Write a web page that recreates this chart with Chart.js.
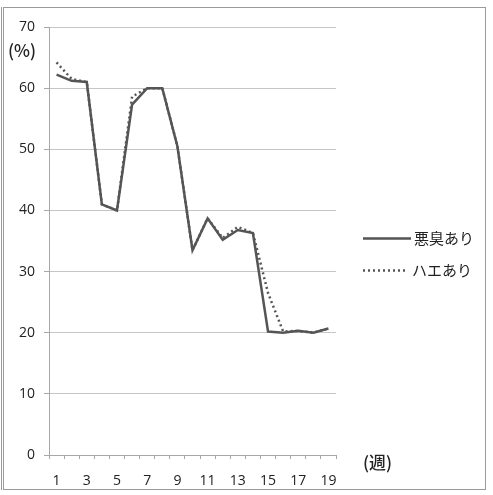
<!DOCTYPE html>
<html>
<head>
<meta charset="utf-8">
<script src="https://cdn.jsdelivr.net/npm/chart.js@4"></script>
<style>
  html, body { margin: 0; padding: 0; background: #fff; }
  #wrap { width: 493px; height: 495px; position: relative; }
</style>
</head>
<body>
<div id="wrap"><canvas id="c" width="493" height="495"></canvas></div>
<script>
// Weekly rate (%) by complaint type
const weeks = [1, 2, 3, 4, 5, 6, 7, 8, 9, 10, 11, 12, 13, 14, 15, 16, 17, 18, 19];
const odorValues = [62.2, 61.2, 61, 41, 40, 57.3, 60, 60, 50.5, 33.5, 38.7, 35.2, 36.8, 36.3, 20.2, 20, 20.3, 20, 20.7];
const flyValues  = [64.2, 61.5, 61, 41, 40, 58.6, 60, 60, 50.5, 33.5, 38.7, 35.5, 37.3, 36.3, 26.5, 20.2, 20.3, 20, 20.7];
const seriesNames = ['悪臭あり', 'ハエあり'];
const yUnit = '(%)';
const xUnit = '(週)';

const lineColor = '#555555';
const gridColor = '#c6c6c6';
const axisColor = '#a8a8a8';
const textColor = '#222222';
const numFont = { family: "'Open Sans', 'DejaVu Sans', sans-serif", size: 14 };
const jpFont = "'Noto Sans CJK JP', sans-serif";

// Frame, unit labels and a hand-laid legend on the right
const decorations = {
  id: 'decorations',
  beforeDraw(chart) {
    const ctx = chart.ctx;
    ctx.save();
    ctx.fillStyle = '#ffffff';
    ctx.fillRect(0, 0, chart.width, chart.height);
    ctx.strokeStyle = '#9a9a9a';
    ctx.lineWidth = 1;
    ctx.strokeRect(3.5, 7.5, 482, 482);
    ctx.beginPath();
    ctx.moveTo(1.5, 7); ctx.lineTo(1.5, 490);
    ctx.stroke();
    ctx.restore();
  },
  afterDraw(chart) {
    const ctx = chart.ctx;
    ctx.save();
    ctx.fillStyle = textColor;
    ctx.textBaseline = 'middle';
    ctx.textAlign = 'left';
    ctx.font = "500 17px " + jpFont;
    ctx.fillText(yUnit, 8, 51);
    ctx.fillText(xUnit, 363, 463);

    // legend
    const items = chart.data.datasets;
    const rows = [238, 270];
    items.forEach((ds, i) => {
      const y = rows[i];
      ctx.beginPath();
      ctx.strokeStyle = ds.borderColor;
      ctx.lineWidth = ds.borderWidth;
      ctx.setLineDash(ds.borderDash || []);
      ctx.moveTo(363, y + 0.5);
      ctx.lineTo(i === 0 ? 411 : 407, y + 0.5);
      ctx.stroke();
      ctx.setLineDash([]);
      ctx.fillStyle = textColor;
      ctx.font = "15px " + jpFont;
      ctx.fillText(ds.label, i === 0 ? 414 : 412, y);
    });
    ctx.restore();
  }
};

new Chart(document.getElementById('c'), {
  type: 'line',
  data: {
    labels: weeks,
    datasets: [
      {
        label: seriesNames[0],
        data: odorValues,
        borderColor: lineColor,
        borderWidth: 2.5,
        pointRadius: 0,
        tension: 0,
        fill: false
      },
      {
        label: seriesNames[1],
        data: flyValues,
        borderColor: lineColor,
        borderWidth: 2.5,
        borderDash: [2, 3],
        pointRadius: 0,
        tension: 0,
        fill: false
      }
    ]
  },
  options: {
    responsive: false,
    animation: false,
    devicePixelRatio: 1,
    layout: { padding: { left: 0, right: 157, top: 27, bottom: 0 } },
    plugins: {
      legend: { display: false },
      tooltip: { enabled: false }
    },
    scales: {
      x: {
        type: 'category',
        offset: true,
        afterFit(scale) { scale.height = 40; },
        grid: {
          display: true,
          offset: true,
          drawOnChartArea: false,
          drawTicks: true,
          tickLength: 4,
          color: axisColor
        },
        border: { display: true, color: axisColor, width: 1 },
        ticks: {
          autoSkip: false,
          maxRotation: 0,
          padding: 14,
          color: textColor,
          font: numFont,
          callback(value, index) {
            return index % 2 === 0 ? this.getLabelForValue(value) : '';
          }
        }
      },
      y: {
        min: 0,
        max: 70,
        afterFit(scale) { scale.width = 49; },
        grid: {
          color: gridColor,
          lineWidth: 1,
          drawTicks: true,
          tickLength: 5,
          tickColor: axisColor
        },
        border: { display: true, color: axisColor, width: 1 },
        ticks: {
          stepSize: 10,
          padding: 9,
          color: textColor,
          font: numFont
        }
      }
    }
  },
  plugins: [decorations]
});
</script>
</body>
</html>
